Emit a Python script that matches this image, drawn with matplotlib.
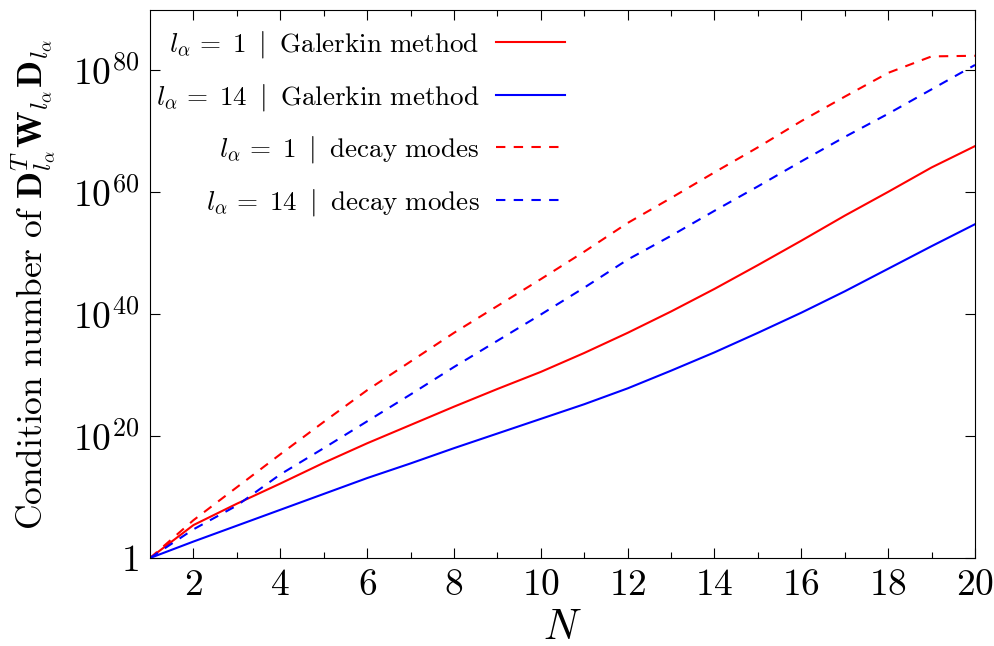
import numpy as np
import matplotlib
matplotlib.use("Agg")
import matplotlib.pyplot as plt
from matplotlib.ticker import FixedLocator

plt.rcParams["mathtext.fontset"] = "cm"
plt.rcParams["font.family"] = "serif"
plt.rcParams["font.serif"] = ["cmr10"]
plt.rcParams["axes.formatter.use_mathtext"] = True

# polynomial degree N
n_vals = np.arange(1, 21)
# log10 of the condition number
galerkin_l1 = [0, 5.4, 8.9, 12.2, 15.6, 18.8, 21.8, 24.8, 27.7, 30.5,
               33.6, 36.9, 40.4, 44.1, 48.0, 52.0, 56.1, 60.0, 64.0, 67.5]
galerkin_l14 = [0, 2.7, 5.3, 7.9, 10.5, 13.1, 15.5, 18.0, 20.4, 22.8,
                25.2, 27.8, 30.7, 33.7, 36.9, 40.2, 43.7, 47.4, 51.1, 54.7]
decay_l1 = [0, 6.2, 11.6, 17.0, 22.3, 27.5, 32.2, 36.9, 41.3, 45.7,
            50.2, 54.9, 59.0, 63.2, 67.3, 71.6, 75.6, 79.5, 82.2, 82.3]
decay_l14 = [0, 4.7, 8.6, 13.7, 18.0, 22.4, 26.8, 31.3, 35.6, 39.9,
             44.3, 48.9, 52.8, 56.9, 60.9, 65.0, 69.0, 72.8, 76.8, 80.8]

labels = [r"$l_\alpha\,=\;1\;\;|\;\;\mathrm{Galerkin\ method}$",
          r"$l_\alpha\,=\;14\;\;|\;\;\mathrm{Galerkin\ method}$",
          r"$l_\alpha\,=\;1\;\;|\;\;\mathrm{decay\ modes}$",
          r"$l_\alpha\,=\;14\;\;|\;\;\mathrm{decay\ modes}$"]

yticks = [0, 20, 40, 60, 80]
ytick_labels = ["$1$", "$10^{20}$", "$10^{40}$", "$10^{60}$", "$10^{80}$"]

fig = plt.figure(figsize=(9.95, 6.46), dpi=100)
ax = fig.add_axes([0.1508, 0.1362, 0.8291, 0.8483])

lw = 1.5
ax.plot(n_vals, 10.0 ** np.array(galerkin_l1), color="red", lw=lw, label=labels[0])
ax.plot(n_vals, 10.0 ** np.array(galerkin_l14), color="blue", lw=lw, label=labels[1])
ax.plot(n_vals, 10.0 ** np.array(decay_l1), color="red", lw=lw, dashes=(4.5, 4), label=labels[2])
ax.plot(n_vals, 10.0 ** np.array(decay_l14), color="blue", lw=lw, dashes=(4.5, 4), label=labels[3])

ax.set_yscale("log")
ax.set_xlim(1, 20)
ax.set_ylim(1, 10 ** 89.8)

ax.set_xticks(np.arange(2, 21, 2))
ax.set_xticklabels(["$%d$" % v for v in range(2, 21, 2)])
ax.xaxis.set_minor_locator(FixedLocator(np.arange(3, 20, 2)))
ax.yaxis.set_major_locator(FixedLocator([10.0 ** v for v in yticks]))
ax.yaxis.set_minor_locator(FixedLocator([]))
ax.set_yticklabels(ytick_labels)

ax.tick_params(which="both", direction="in", top=True, right=True, labelsize=27, pad=8)
ax.tick_params(which="major", length=7, width=0.8)
ax.tick_params(which="minor", length=4, width=0.8)

ax.set_xlabel("$N$", fontsize=30, labelpad=5)
ax.set_ylabel(r"$\mathrm{Condition\ number\ of\ }\mathbf{D}^T_{l_\alpha}\mathbf{W}_{l_\alpha}\mathbf{D}_{l_\alpha}$",
              fontsize=25.5, labelpad=11)

ax.legend(loc="upper left", markerfirst=False, frameon=False, fontsize=19.5,
          handlelength=2.55, handletextpad=0.6, labelspacing=0.8,
          borderaxespad=0.3, bbox_to_anchor=(-0.016, 1.0))

fig.savefig("out.png", dpi=100)
